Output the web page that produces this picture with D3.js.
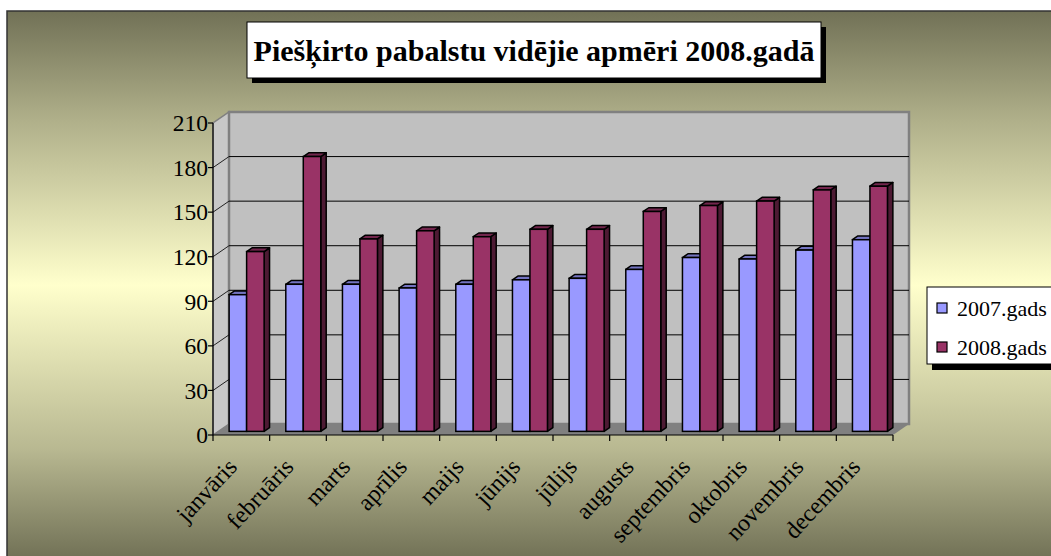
<!DOCTYPE html>
<html>
<head>
<meta charset="utf-8">
<script src="https://cdn.jsdelivr.net/npm/d3@7"></script>
<style>
  html, body { margin: 0; padding: 0; background: #fff; }
  svg { display: block; }
  text { font-family: "Liberation Serif", "DejaVu Serif", serif; fill: #000; }
</style>
</head>
<body>
<svg id="chart"></svg>
<script>
/* 3D clustered column chart, drawn by hand with d3 scales. */
var months = ["janvāris", "februāris", "marts", "aprīlis", "maijs", "jūnijs",
  "jūlijs", "augusts", "septembris", "oktobris", "novembris", "decembris"];
var seriesNames = ["2007.gads", "2008.gads"];
var values2007 = [92, 99, 99, 96.5, 99, 102, 103, 109, 117, 116, 122, 129];
var values2008 = [121, 185, 129.5, 135, 131, 136, 136, 148, 152, 155, 162.5, 165];
var yTicks = [0, 30, 60, 90, 120, 150, 180, 210];
var title = "Piešķirto pabalstu vidējie apmēri 2008.gadā";

var W = 1051, H = 556;
var svg = d3.select("#chart").attr("width", W).attr("height", H);

// background gradient
var defs = svg.append("defs");
var grad = defs.append("linearGradient").attr("id", "bg")
  .attr("x1", 0).attr("y1", 0).attr("x2", 0).attr("y2", 1);
[[0, "#717156"], [0.2, "#b0b08a"], [0.5, "#ffffcc"], [0.8, "#b8b891"], [1, "#717156"]]
  .forEach(function (s) {
    grad.append("stop").attr("offset", s[0]).attr("stop-color", s[1]);
  });

svg.append("rect").attr("x", 7).attr("y", 11).attr("width", W + 10).attr("height", H - 8)
  .attr("fill", "url(#bg)").attr("stroke", "#333").attr("stroke-width", 1.5);

// 3d geometry
var depthX = 16, depthY = -11;
var x0 = 213, x1 = 893;
var y = d3.scaleLinear().domain([0, 210]).range([435, 123]);
var x = d3.scaleBand().domain(months).range([x0, x1]).paddingInner(0).paddingOuter(0);
var xs = d3.scaleBand().domain(seriesNames).range([0, x.bandwidth()]).paddingInner(0).paddingOuter(0.62);

var g = svg.append("g");

// side wall
g.append("polygon")
  .attr("points", [[x0, y(0)], [x0 + depthX, y(0) + depthY], [x0 + depthX, y(210) + depthY], [x0, y(210)]].join(" "))
  .attr("fill", "#c8c8c8").attr("stroke", "#808080").attr("stroke-width", 1.5);
// back wall
g.append("rect")
  .attr("x", x0 + depthX).attr("y", y(210) + depthY)
  .attr("width", x1 - x0).attr("height", y(0) - y(210))
  .attr("fill", "#c0c0c0").attr("stroke", "#808080").attr("stroke-width", 2.5);
// floor
g.append("polygon")
  .attr("points", [[x0, y(0)], [x1, y(0)], [x1 + depthX, y(0) + depthY], [x0 + depthX, y(0) + depthY]].join(" "))
  .attr("fill", "#808080");

// gridlines
yTicks.filter(function (t) { return t > 0 && t < 210; }).forEach(function (t) {
  g.append("line")
    .attr("x1", x0 + depthX).attr("x2", x1 + depthX)
    .attr("y1", y(t) + depthY).attr("y2", y(t) + depthY)
    .attr("stroke", "#000").attr("stroke-width", 1);
  g.append("line")
    .attr("x1", x0).attr("x2", x0 + depthX)
    .attr("y1", y(t)).attr("y2", y(t) + depthY)
    .attr("stroke", "#222").attr("stroke-width", 1);
});

// bars
var frontF = 0.33, barF = 0.34;
var fx = depthX * frontF, fy = depthY * frontF;
var bx = depthX * barF, by = depthY * barF;
var colors = {
  "2007.gads": { front: "#9999ff", top: "#7373c0", side: "#4d4d80" },
  "2008.gads": { front: "#993366", top: "#73264d", side: "#4d1a33" }
};
var bars = [];
months.forEach(function (m, i) {
  bars.push({ m: m, s: "2007.gads", v: values2007[i] });
  bars.push({ m: m, s: "2008.gads", v: values2008[i] });
});
var bw = xs.bandwidth();
var barG = g.selectAll("g.bar").data(bars).join("g").attr("class", "bar");
barG.each(function (d) {
  var el = d3.select(this);
  var c = colors[d.s];
  var l = x(d.m) + xs(d.s) + fx, r = l + bw;
  var t = y(d.v) + fy, b = y(0) + fy;
  el.append("polygon")
    .attr("points", [[r, b], [r + bx, b + by], [r + bx, t + by], [r, t]].join(" "))
    .attr("fill", c.side).attr("stroke", "#000").attr("stroke-width", 1.5).attr("stroke-linejoin", "round");
  el.append("polygon")
    .attr("points", [[l, t], [r, t], [r + bx, t + by], [l + bx, t + by]].join(" "))
    .attr("fill", c.top).attr("stroke", "#000").attr("stroke-width", 1.5).attr("stroke-linejoin", "round");
  el.append("rect")
    .attr("x", l).attr("y", t).attr("width", bw).attr("height", b - t)
    .attr("fill", c.front).attr("stroke", "#000").attr("stroke-width", 1.5);
});

// y axis
var yAxis = svg.append("g");
yAxis.append("line").attr("x1", x0).attr("x2", x0).attr("y1", y(0)).attr("y2", y(210))
  .attr("stroke", "#000").attr("stroke-width", 1.2);
yTicks.forEach(function (t) {
  yAxis.append("line").attr("x1", x0 - 5).attr("x2", x0).attr("y1", y(t)).attr("y2", y(t))
    .attr("stroke", "#000").attr("stroke-width", 1.2);
  yAxis.append("text").attr("x", x0 - 5).attr("y", y(t)).attr("dy", "0.35em")
    .attr("text-anchor", "end").style("font-size", "23.5px").text(t);
});

// x axis
var xAxis = svg.append("g");
xAxis.append("line").attr("x1", x0).attr("x2", x1).attr("y1", y(0)).attr("y2", y(0))
  .attr("stroke", "#000").attr("stroke-width", 1.2);
months.concat(["_end"]).forEach(function (m, i) {
  var px = i < months.length ? x(m) : x1;
  xAxis.append("line").attr("x1", px).attr("x2", px).attr("y1", y(0)).attr("y2", y(0) + 6)
    .attr("stroke", "#000").attr("stroke-width", 1.2);
});
xAxis.selectAll("text.xl").data(months).join("text").attr("class", "xl")
  .attr("text-anchor", "end")
  .attr("transform", function (d) {
    return "translate(" + (x(d) + x.bandwidth() / 2 - 3) + "," + (y(0) + 33) + ") rotate(-47)";
  })
  .style("font-size", "24px")
  .text(function (d) { return d; });

// title
var tg = svg.append("g");
tg.append("rect").attr("x", 252).attr("y", 27).attr("width", 574).attr("height", 56).attr("fill", "#000");
tg.append("rect").attr("x", 247).attr("y", 22).attr("width", 574).attr("height", 56)
  .attr("fill", "#fff").attr("stroke", "#000").attr("stroke-width", 1);
tg.append("text").attr("x", 534).attr("y", 61).attr("text-anchor", "middle")
  .style("font-size", "30px").style("font-weight", "bold").text(title);

// legend
var lg = svg.append("g");
lg.append("rect").attr("x", 932).attr("y", 292).attr("width", 130).attr("height", 78).attr("fill", "#000");
lg.append("rect").attr("x", 927).attr("y", 287).attr("width", 130).attr("height", 77)
  .attr("fill", "#fff").attr("stroke", "#000").attr("stroke-width", 1);
seriesNames.forEach(function (s, i) {
  var cy = 308 + i * 39;
  lg.append("rect").attr("x", 937).attr("y", cy - 5).attr("width", 10).attr("height", 10)
    .attr("fill", colors[s].front).attr("stroke", "#000").attr("stroke-width", 1.2);
  lg.append("text").attr("x", 957).attr("y", cy).attr("dy", "0.35em")
    .style("font-size", "22px").text(s);
});
</script>
</body>
</html>
